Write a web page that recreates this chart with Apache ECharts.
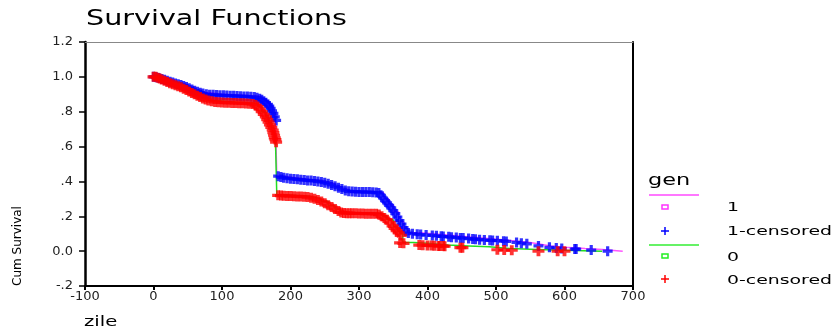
<!DOCTYPE html>
<html>
<head>
<meta charset="utf-8">
<title>Survival Functions</title>
<script src="https://cdn.jsdelivr.net/npm/echarts@6/dist/echarts.min.js"></script>
<style>
  html, body { margin: 0; padding: 0; background: #fff; }
  #chart { width: 833px; height: 335px; }
</style>
</head>
<body>
<div id="chart"></div>
<script>
// gen = 1 : survival steps
const times1 = [0, 10, 20, 30, 40, 50, 60, 70, 80, 100,
  130, 150, 158, 165, 170, 174, 178, 180, 190, 210,
  230, 245, 255, 265, 275, 285, 320, 330, 336, 343,
  350, 358, 365, 371, 390, 420, 450, 480, 510, 530,
  550, 565, 580, 600, 630, 655, 685];
const surv1 = [1.0, 0.99, 0.98, 0.965, 0.955, 0.94, 0.925, 0.91, 0.9, 0.895,
  0.89, 0.885, 0.87, 0.85, 0.83, 0.79, 0.75, 0.43, 0.42, 0.41,
  0.405, 0.395, 0.385, 0.37, 0.355, 0.342, 0.338, 0.335, 0.3, 0.265,
  0.225, 0.17, 0.13, 0.105, 0.095, 0.085, 0.075, 0.065, 0.057, 0.05,
  0.04, 0.03, 0.022, 0.015, 0.01, 0.0, 0.0];

// gen = 1 : censored cases [time, survival]
const cens1 = [[0, 1.0], [4, 0.998], [8, 0.993], [12, 0.988], [16, 0.983], [20, 0.978], [24, 0.972],
  [28, 0.967], [32, 0.962], [36, 0.958], [40, 0.953], [44, 0.948], [48, 0.942], [52, 0.935],
  [56, 0.928], [60, 0.921], [64, 0.915], [68, 0.909], [72, 0.904], [77, 0.9], [82, 0.898],
  [87, 0.897], [92, 0.896], [97, 0.895], [102, 0.894], [107, 0.893], [112, 0.892], [117, 0.891],
  [122, 0.89], [127, 0.889], [132, 0.888], [137, 0.887], [142, 0.886], [147, 0.884], [151, 0.88],
  [155, 0.874], [158, 0.868], [161, 0.86], [164, 0.852], [167, 0.842], [169, 0.832], [171, 0.82],
  [173, 0.805], [175, 0.79], [177, 0.77], [179, 0.75],
  [182, 0.43], [186, 0.425], [190, 0.421], [195, 0.418], [200, 0.416], [205, 0.414], [210, 0.412],
  [215, 0.41], [220, 0.408], [225, 0.406], [230, 0.405], [235, 0.403], [240, 0.4], [245, 0.397],
  [250, 0.393], [255, 0.387], [260, 0.38], [265, 0.372], [270, 0.364], [275, 0.356], [280, 0.348],
  [285, 0.343], [290, 0.342], [295, 0.341], [300, 0.34], [305, 0.34], [310, 0.339], [315, 0.339],
  [320, 0.338], [325, 0.336], [329, 0.334], [332, 0.32], [335, 0.305], [338, 0.29], [341, 0.277],
  [344, 0.263], [347, 0.248], [350, 0.232], [353, 0.215], [356, 0.195], [359, 0.175], [362, 0.155],
  [365, 0.135], [368, 0.115],
  [372, 0.104], [378, 0.1], [385, 0.097], [390, 0.095], [398, 0.092], [407, 0.09], [413, 0.088],
  [420, 0.085], [423, 0.084], [431, 0.082], [435, 0.08], [442, 0.078], [448, 0.076], [452, 0.075],
  [460, 0.072], [466, 0.07], [470, 0.068], [476, 0.066], [483, 0.064], [491, 0.062], [495, 0.061],
  [502, 0.06], [511, 0.057], [515, 0.056], [530, 0.05], [537, 0.046], [545, 0.042], [562, 0.03],
  [578, 0.022], [588, 0.018], [596, 0.015], [615, 0.012], [617, 0.012], [639, 0.006], [663, 0.0]];

// gen = 0 : survival steps
const times0 = [0, 10, 20, 30, 40, 50, 60, 70, 80, 90,
  120, 145, 152, 158, 164, 168, 172, 176, 178, 180,
  200, 225, 235, 245, 255, 265, 273, 300, 327, 334,
  341, 350, 356, 360, 364, 380, 400, 430, 460, 490,
  520, 560, 600, 655];
const surv0 = [1.0, 0.985, 0.97, 0.955, 0.94, 0.92, 0.9, 0.88, 0.865, 0.855,
  0.85, 0.845, 0.83, 0.8, 0.77, 0.74, 0.71, 0.68, 0.64, 0.32,
  0.317, 0.31, 0.3, 0.285, 0.26, 0.24, 0.22, 0.218, 0.215, 0.2,
  0.18, 0.14, 0.115, 0.1, 0.05, 0.045, 0.035, 0.03, 0.025, 0.015,
  0.01, 0.005, 0.0, 0.0];

// gen = 0 : censored cases [time, survival]
const cens0 = [[0, 1.0], [3, 1.0], [6, 0.995], [9, 0.99], [12, 0.985], [16, 0.978], [20, 0.97],
  [24, 0.964], [28, 0.958], [32, 0.952], [36, 0.946], [40, 0.94], [44, 0.932], [48, 0.925],
  [52, 0.916], [56, 0.908], [60, 0.9], [64, 0.892], [68, 0.884], [72, 0.876], [76, 0.87],
  [80, 0.865], [85, 0.86], [90, 0.856], [95, 0.854], [100, 0.853], [105, 0.852], [110, 0.851],
  [115, 0.85], [120, 0.85], [125, 0.849], [130, 0.848], [135, 0.847], [140, 0.846], [145, 0.844],
  [149, 0.838], [152, 0.83], [155, 0.815], [158, 0.8], [161, 0.785], [164, 0.77], [166, 0.755],
  [168, 0.74], [170, 0.725], [172, 0.71], [174, 0.695], [175, 0.68], [176, 0.665], [177, 0.65],
  [178, 0.64], [179, 0.625],
  [182, 0.32], [186, 0.319], [190, 0.318], [195, 0.317], [200, 0.316], [205, 0.315], [210, 0.314],
  [215, 0.313], [220, 0.312], [225, 0.31], [230, 0.306], [235, 0.3], [240, 0.293], [245, 0.285],
  [250, 0.275], [255, 0.264], [260, 0.253], [265, 0.242], [270, 0.23], [274, 0.222], [278, 0.219],
  [282, 0.218], [286, 0.218], [290, 0.217], [295, 0.217], [300, 0.216], [305, 0.216], [310, 0.215],
  [315, 0.215], [320, 0.215], [325, 0.214], [329, 0.21], [333, 0.2], [337, 0.19], [341, 0.18],
  [345, 0.162], [349, 0.145], [352, 0.13], [355, 0.118], [358, 0.105], [361, 0.09],
  [360, 0.047], [365, 0.045], [388, 0.035], [393, 0.034], [400, 0.033], [406, 0.032], [410, 0.031],
  [416, 0.03], [418, 0.03], [423, 0.029], [425, 0.028], [448, 0.02], [451, 0.02], [502, 0.008],
  [512, 0.006], [523, 0.005], [562, 0.0], [590, 0.0], [600, 0.0]];

const yTickValues = [-0.2, 0, 0.2, 0.4, 0.6, 0.8, 1.0, 1.2];
const yTickLabels = ['-.2', '0.0', '.2', '.4', '.6', '.8', '1.0', '1.2'];

const FONT = 'DejaVu Sans';
const plus = 'path://M3.4,0H6.6V3.4H10V6.6H6.6V10H3.4V6.6H0V3.4H3.4Z';

function pairs(xs, ys) {
  return xs.map((x, i) => [x, ys[i]]);
}

const chart = echarts.init(document.getElementById('chart'));

chart.setOption({
  animation: false,
  backgroundColor: '#fff',
  grid: { left: 85, right: 200, top: 42, bottom: 49 },
  xAxis: [{
    type: 'value', min: -100, max: 700, interval: 100,
    axisLine: { show: true, onZero: false, lineStyle: { color: '#000', width: 2 } },
    axisTick: { show: true, length: 4, lineStyle: { color: '#000', width: 2 } },
    axisLabel: { color: '#222', fontFamily: FONT, fontSize: 13, margin: 4 },
    splitLine: { show: false }
  }, {
    type: 'value', min: -100, max: 700, position: 'top',
    axisLine: { show: true, onZero: false, lineStyle: { color: '#888', width: 1 } },
    axisTick: { show: false }, axisLabel: { show: false }, splitLine: { show: false }
  }],
  yAxis: [{
    type: 'value', min: -0.2, max: 1.2, interval: 0.2,
    axisLine: { show: true, onZero: false, lineStyle: { color: '#000', width: 2.5 } },
    axisTick: { show: true, length: 6, lineStyle: { color: '#000', width: 1.5 } },
    axisLabel: {
      color: '#222', fontFamily: FONT, fontSize: 13, margin: 12,
      formatter: v => {
        const i = yTickValues.findIndex(t => Math.abs(t - v) < 1e-6);
        return i >= 0 ? yTickLabels[i] : '';
      }
    },
    splitLine: { show: false }
  }, {
    type: 'value', min: -0.2, max: 1.2, position: 'right',
    axisLine: { show: true, onZero: false, lineStyle: { color: '#000', width: 2 } },
    axisTick: { show: false }, axisLabel: { show: false }, splitLine: { show: false }
  }],
  series: [
    {
      name: '1', type: 'line', step: 'end', symbol: 'none',
      data: pairs(times1, surv1),
      lineStyle: { color: '#ff55ff', width: 1.5 }, z: 2
    },
    {
      name: '0', type: 'line', step: 'end', symbol: 'none',
      data: pairs(times0, surv0),
      lineStyle: { color: '#22dd22', width: 1.5 }, z: 3
    },
    {
      name: '1-censored', type: 'scatter', symbol: plus, symbolSize: [10, 10],
      data: cens1, itemStyle: { color: '#0000ff' }, z: 4
    },
    {
      name: '0-censored', type: 'scatter', symbol: plus, symbolSize: [12, 10],
      data: cens0, itemStyle: { color: '#ff0000' }, z: 5
    }
  ],
  graphic: [
    { type: 'text', x: 86, y: 19, scaleX: 1.3,
      style: { text: 'Survival Functions', font: '22px "DejaVu Sans"', fill: '#000',
        textAlign: 'left', textVerticalAlign: 'middle' } },
    { type: 'text', x: 18, y: 246, rotation: Math.PI / 2,
      style: { text: 'Cum Survival', font: '12px "DejaVu Sans"', fill: '#000',
        textAlign: 'center', textVerticalAlign: 'middle' } },
    { type: 'text', x: 84, y: 322, scaleX: 1.4,
      style: { text: 'zile', font: '14px "DejaVu Sans"', fill: '#000',
        textAlign: 'left', textVerticalAlign: 'middle' } },
    // legend
    { type: 'text', x: 648, y: 181, scaleX: 1.4,
      style: { text: 'gen', font: '16px "DejaVu Sans"', fill: '#000',
        textAlign: 'left', textVerticalAlign: 'middle' } },
    { type: 'line', shape: { x1: 649, y1: 195, x2: 699, y2: 195 },
      style: { stroke: '#ff77ff', lineWidth: 2 } },
    { type: 'rect', shape: { x: 662, y: 205, width: 6, height: 4 },
      style: { fill: 'none', stroke: '#ff33ff', lineWidth: 1.5 } },
    { type: 'line', shape: { x1: 661, y1: 231, x2: 669, y2: 231 },
      style: { stroke: '#0000ff', lineWidth: 1.5 } },
    { type: 'line', shape: { x1: 665, y1: 227, x2: 665, y2: 235 },
      style: { stroke: '#0000ff', lineWidth: 1.5 } },
    { type: 'line', shape: { x1: 649, y1: 245, x2: 699, y2: 245 },
      style: { stroke: '#33ee33', lineWidth: 1.5 } },
    { type: 'rect', shape: { x: 662, y: 254, width: 6, height: 4 },
      style: { fill: 'none', stroke: '#22ee22', lineWidth: 1.5 } },
    { type: 'line', shape: { x1: 661, y1: 279, x2: 669, y2: 279 },
      style: { stroke: '#ff0000', lineWidth: 1.5 } },
    { type: 'line', shape: { x1: 665, y1: 275, x2: 665, y2: 283 },
      style: { stroke: '#ff0000', lineWidth: 1.5 } },
    { type: 'text', x: 727, y: 208, scaleX: 1.45,
      style: { text: '1', font: '13px "DejaVu Sans"', fill: '#000', textAlign: 'left', textVerticalAlign: 'middle' } },
    { type: 'text', x: 727, y: 232, scaleX: 1.45,
      style: { text: '1-censored', font: '13px "DejaVu Sans"', fill: '#000', textAlign: 'left', textVerticalAlign: 'middle' } },
    { type: 'text', x: 727, y: 258, scaleX: 1.45,
      style: { text: '0', font: '13px "DejaVu Sans"', fill: '#000', textAlign: 'left', textVerticalAlign: 'middle' } },
    { type: 'text', x: 727, y: 281, scaleX: 1.45,
      style: { text: '0-censored', font: '13px "DejaVu Sans"', fill: '#000', textAlign: 'left', textVerticalAlign: 'middle' } }
  ]
});
</script>
</body>
</html>
